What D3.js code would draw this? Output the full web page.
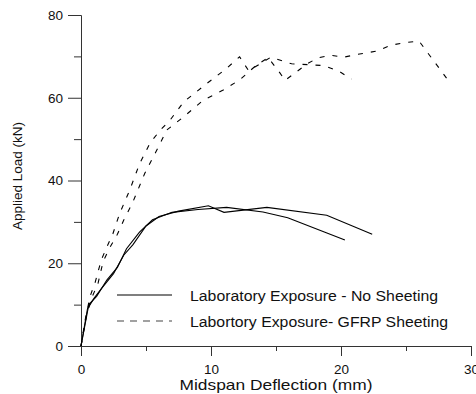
<!DOCTYPE html>
<html>
<head>
<meta charset="utf-8">
<script src="https://cdn.jsdelivr.net/npm/d3@7"></script>
<style>
  body { margin: 0; background: #fff; }
  svg { display: block; font-family: "Liberation Sans", Arial, sans-serif; }
</style>
</head>
<body>
<script>
    //Data (deflection mm, load kN)
    var noSheetA = [[0,0],[0.5,9],[1,11.5],[1.6,14],[2.5,17.5],[3.3,22],[4,24.5],[5,29],[6,31.3],[7.5,32.6],[9.8,33.9],[11,32.3],[14.3,33.5],[18.9,31.6],[22.4,27]];
    var noSheetB = [[0,0],[0.6,10],[1.2,12],[2,16],[2.8,19],[3.5,23.5],[4.5,27.5],[5.5,30.5],[7,32.3],[9,33],[11.2,33.5],[14,32.4],[15.9,31],[20.3,25.6]];
    var gfrpA = [[0,0],[0.3,6],[0.7,12],[1.1,15.5],[1.56,20.8],[2.0,24],[2.46,27.2],[2.97,32],[3.75,37.7],[4.5,44],[5.3,49],[6.1,52.2],[6.85,54.6],[7.9,59],[9.7,63.5],[11.2,67.1],[12.2,69.9],[12.9,66.5],[14.6,69.8],[16.2,68.2],[18.6,67.8],[19.8,66.5],[20.8,64.5]];
    var gfrpB = [[0,0],[0.4,7],[0.8,11.5],[1.3,15],[1.7,20.4],[2.2,23.7],[2.8,27],[3.3,30.5],[3.95,34.5],[4.9,41.7],[5.95,48.1],[6.6,52.2],[7.9,55.4],[9.4,59.4],[10.9,61.8],[12.2,64.3],[13.5,67.9],[14.4,69.7],[15.3,66],[15.7,64.2],[17.4,68.2],[18.2,69.6],[19.2,70.3],[20.2,69.8],[21.3,70.5],[22.8,71.3],[23.8,72.7],[24.9,73.3],[26,73.7],[28.2,64.4]];

    var xMajor = [0,10,20,30];
    var xMinor = [5,15,25];
    var yMajor = [0,20,40,60,80];
    var yMinor = [10,30,50,70];

    var legendLabels = ["Laboratory Exposure - No Sheeting","Labortory Exposure- GFRP Sheeting"];

    //Size Globals (plot box in pixels):
    var svgWidth = 476, svgHeight = 394;
    var plotLeft = 81, plotRight = 471, plotTop = 15, plotBottom = 346;

    var svg = d3.select('body').append('svg')
        .attr('width',svgWidth)
        .attr('height',svgHeight);

    var x = d3.scaleLinear().domain([0,30]).range([plotLeft,plotRight]);
    var y = d3.scaleLinear().domain([0,80]).range([plotBottom,plotTop]);

    var axisColor = '#333';

    //x axis: major ticks with labels, minor ticks without
    var gx = svg.append('g').attr('transform','translate(0,' + plotBottom + ')');
    gx.call(d3.axisBottom(x).tickValues(xMajor).tickSize(10).tickPadding(8).tickSizeOuter(0));
    gx.append('g').call(d3.axisBottom(x).tickValues(xMinor).tickSize(5).tickFormat('').tickSizeOuter(0));

    //y axis
    var gy = svg.append('g').attr('transform','translate(' + plotLeft + ',0)');
    gy.call(d3.axisLeft(y).tickValues(yMajor).tickSize(13).tickPadding(5).tickSizeOuter(0));
    gy.append('g').call(d3.axisLeft(y).tickValues(yMinor).tickSize(7).tickFormat('').tickSizeOuter(0));

    svg.selectAll('.domain, .tick line')
        .attr('stroke',axisColor)
        .attr('stroke-width',1);
    svg.selectAll('.tick text')
        .attr('fill','#111')
        .attr('font-size',13.5)
        .attr('font-family','"Liberation Sans", Arial, sans-serif');

    //axis titles
    svg.append('text')
        .attr('x',(plotLeft + 195))
        .attr('y',390)
        .attr('text-anchor','middle')
        .attr('font-size',15)
        .attr('textLength',193)
        .attr('lengthAdjust','spacingAndGlyphs')
        .attr('fill','#111')
        .text('Midspan Deflection (mm)');

    svg.append('text')
        .attr('transform','translate(22,' + 176 + ') rotate(-90)')
        .attr('text-anchor','middle')
        .attr('font-size',13.5)
        .attr('fill','#111')
        .text('Applied Load (kN)');

    //curves
    var line = d3.line()
        .x(function(d){ return x(d[0]); })
        .y(function(d){ return y(d[1]); });

    var curves = [
        {data:noSheetA, dash:null},
        {data:noSheetB, dash:null},
        {data:gfrpA, dash:'5,8'},
        {data:gfrpB, dash:'5,8'}
    ];

    svg.append('g').selectAll('path')
        .data(curves)
        .enter().append('path')
        .attr('d',function(c){ return line(c.data); })
        .attr('fill','none')
        .attr('stroke','#000')
        .attr('stroke-width',1.1)
        .attr('stroke-dasharray',function(c){ return c.dash; });

    //legend (text widths)
    var legend = svg.append('g');
    var legendY = [295, 321];
    var legendW = [248, 258];
    legendLabels.forEach(function(label,i){
        legend.append('line')
            .attr('x1',117).attr('x2',172)
            .attr('y1',legendY[i]).attr('y2',legendY[i])
            .attr('stroke', i === 0 ? '#000' : '#444')
            .attr('stroke-width',1.1)
            .attr('stroke-dasharray', i === 0 ? null : '7,6');
        legend.append('text')
            .attr('x',190)
            .attr('y',legendY[i] + 5.5)
            .attr('font-size',15.5)
            .attr('textLength',legendW[i])
            .attr('lengthAdjust','spacingAndGlyphs')
            .attr('fill','#111')
            .text(label);
    });
</script>
</body>
</html>
